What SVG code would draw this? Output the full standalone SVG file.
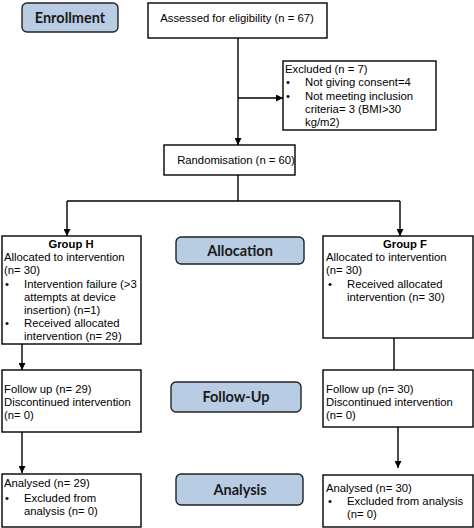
<svg xmlns="http://www.w3.org/2000/svg" width="474" height="528" viewBox="0 0 474 528">
<style>
.box{fill:#fff;stroke:#000;stroke-width:1.4}
.lab{fill:#b8cce4;stroke:#222;stroke-width:1.4}
.t{font-family:"Liberation Sans",Arial,sans-serif;font-size:11.3px;fill:#000}
.b{font-weight:bold}
.lt{font-family:Lato,"Open Sans",sans-serif;font-size:14.5px;font-weight:bold;fill:#1a1a1a;text-anchor:middle}
.c{fill:none;stroke:#000;stroke-width:1.4}
</style>
<defs>
<marker id="ah" viewBox="0 0 10 10" refX="10" refY="5" markerWidth="7" markerHeight="7" orient="auto" markerUnits="userSpaceOnUse">
<path d="M0,0 L10,5 L0,10 z" fill="#000"/>
</marker>
</defs>
<g id="connectors">
<line class="c" x1="238" y1="38" x2="238" y2="145" marker-end="url(#ah)"/>
<line class="c" x1="238" y1="98" x2="283" y2="98" marker-end="url(#ah)"/>
<polyline class="c" points="238,175 238,201"/>
<polyline class="c" points="67,201 400,201"/>
<line class="c" x1="67" y1="201" x2="67" y2="236" marker-end="url(#ah)"/>
<line class="c" x1="400" y1="201" x2="400" y2="236" marker-end="url(#ah)"/>
<line class="c" x1="22" y1="344" x2="22" y2="370" marker-end="url(#ah)"/>
<line class="c" x1="394" y1="338" x2="394" y2="370"/>
<line class="c" x1="22" y1="432" x2="22" y2="473" marker-end="url(#ah)"/>
<line class="c" x1="398" y1="427" x2="398" y2="468" marker-end="url(#ah)"/>
</g>
<g id="enrollment"><rect class="lab" x="22" y="3" width="96" height="29" rx="5"/><text class="lt" x="70" y="22.5">Enrollment</text></g>
<g id="assessed"><rect class="box" x="148" y="3" width="179" height="35"/><text class="t" x="237" y="22" text-anchor="middle">Assessed for eligibility (n = 67)</text></g>
<g id="excluded"><rect class="box" x="283" y="61" width="153" height="69"/>
<text class="t" x="285" y="73">Excluded (n = 7)</text>
<text class="t" x="286" y="86">•</text><text class="t" x="305" y="86">Not giving consent=4</text>
<text class="t" x="286" y="100">•</text><text class="t" x="305" y="100">Not meeting inclusion</text>
<text class="t" x="305" y="113">criteria= 3 (BMI&gt;30</text>
<text class="t" x="305" y="126">kg/m2)</text>
</g>
<g id="randomisation"><rect class="box" x="164" y="145" width="131" height="30"/><text class="t" x="236" y="164" text-anchor="middle">Randomisation (n = 60)</text></g>
<g id="allocation"><rect class="lab" x="176" y="237" width="128" height="27" rx="5"/><text class="lt" x="240" y="255.5">Allocation</text></g>
<g id="groupH"><rect class="box" x="2" y="236" width="139" height="108"/>
<text class="t b" x="71" y="248" text-anchor="middle">Group H</text>
<text class="t" x="4" y="261">Allocated to intervention</text>
<text class="t" x="4" y="274">(n= 30)</text>
<text class="t" x="5" y="288">•</text><text class="t" x="24" y="288">Intervention failure (&gt;3</text>
<text class="t" x="24" y="301">attempts at device</text>
<text class="t" x="24" y="314">insertion) (n=1)</text>
<text class="t" x="5" y="327">•</text><text class="t" x="24" y="327">Received allocated</text>
<text class="t" x="24" y="340">intervention (n= 29)</text>
</g>
<g id="groupF"><rect class="box" x="323" y="236" width="150" height="102"/>
<text class="t b" x="405" y="248" text-anchor="middle">Group F</text>
<text class="t" x="326" y="261">Allocated to intervention</text>
<text class="t" x="326" y="274">(n= 30)</text>
<text class="t" x="328" y="288">•</text><text class="t" x="347" y="288">Received allocated</text>
<text class="t" x="347" y="301">intervention (n= 30)</text>
</g>
<g id="followup-label"><rect class="lab" x="171" y="382" width="130" height="30" rx="5"/><text class="lt" x="236" y="402">Follow-Up</text></g>
<g id="followH"><rect class="box" x="2" y="370" width="139" height="62"/>
<text class="t" x="4" y="393">Follow up (n= 29)</text>
<text class="t" x="4" y="406">Discontinued intervention</text>
<text class="t" x="4" y="419">(n= 0)</text>
</g>
<g id="followF"><rect class="box" x="323" y="370" width="150" height="57"/>
<text class="t" x="326" y="393">Follow up (n= 30)</text>
<text class="t" x="326" y="406">Discontinued intervention</text>
<text class="t" x="326" y="419">(n= 0)</text>
</g>
<g id="analysis-label"><rect class="lab" x="176" y="474" width="127" height="31" rx="5"/><text class="lt" x="240" y="494.5">Analysis</text></g>
<g id="analysedH"><rect class="box" x="2" y="474" width="139" height="53"/>
<text class="t" x="4" y="487">Analysed (n= 29)</text>
<text class="t" x="5" y="502">•</text><text class="t" x="24" y="502">Excluded from</text>
<text class="t" x="24" y="515">analysis (n= 0)</text>
</g>
<g id="analysedF"><rect class="box" x="323" y="475" width="150" height="52"/>
<text class="t" x="326" y="492">Analysed (n= 30)</text>
<text class="t" x="328" y="505">•</text><text class="t" x="347" y="505">Excluded from analysis</text>
<text class="t" x="347" y="518">(n= 0)</text>
</g>
</svg>
